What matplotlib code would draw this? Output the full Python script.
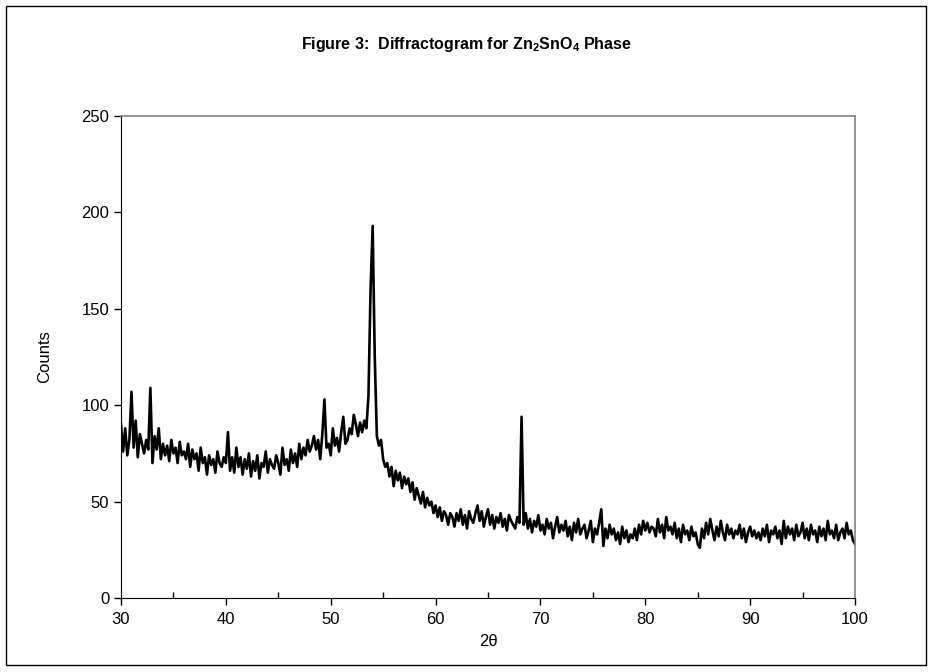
import numpy as np
import matplotlib
matplotlib.use('Agg')
import matplotlib.pyplot as plt
from matplotlib.patches import Rectangle

plt.rcParams['font.family'] = ['Liberation Sans', 'DejaVu Sans']
plt.rcParams['mathtext.fontset'] = 'custom'
plt.rcParams['mathtext.rm'] = 'Liberation Sans'
plt.rcParams['mathtext.bf'] = 'Liberation Sans:bold'

# scan settings (2-theta, degrees)
scan_start = 30.0
scan_step = 0.2

# counts, 2 degrees per row
counts = [
    90, 76, 88, 74, 82, 107, 78, 92, 73, 85,     # 30-32
    80, 75, 82, 77, 109, 70, 84, 77, 88, 72,     # 32-34
    80, 74, 79, 71, 82, 75, 78, 70, 81, 74,      # 34-36
    76, 72, 80, 68, 77, 72, 75, 66, 78, 70,      # 36-38
    73, 64, 74, 69, 72, 65, 76, 70, 68, 73,      # 38-40
    70, 86, 66, 73, 65, 78, 68, 73, 64, 72,      # 40-42
    67, 75, 63, 71, 66, 74, 62, 70, 68, 76,      # 42-44
    65, 72, 69, 67, 74, 70, 64, 78, 69, 72,      # 44-46
    66, 77, 70, 75, 68, 80, 72, 78, 74, 82,      # 46-48
    76, 79, 84, 77, 82, 72, 85, 103, 78, 80,     # 48-50
    74, 88, 79, 83, 76, 86, 94, 80, 82, 88,      # 50-52
    85, 95, 90, 84, 91, 86, 92, 88, 105, 160,    # 52-54
    193, 125, 84, 79, 82, 72, 68, 70, 63, 68,    # 54-56
    58, 66, 61, 65, 57, 63, 59, 62, 55, 60,      # 56-58
    51, 57, 53, 49, 55, 47, 52, 48, 50, 44,      # 58-60
    48, 42, 47, 40, 45, 43, 38, 44, 42, 37,      # 60-62
    44, 40, 46, 38, 43, 36, 45, 41, 39, 44,      # 62-64
    48, 40, 45, 37, 42, 46, 38, 43, 36, 42,      # 64-66
    39, 44, 37, 41, 35, 43, 40, 38, 36, 42,      # 66-68
    39, 94, 38, 44, 36, 41, 34, 40, 37, 43,      # 68-70
    35, 38, 33, 41, 36, 39, 31, 37, 42, 34,      # 70-72
    38, 35, 40, 32, 37, 30, 39, 34, 41, 33,      # 72-74
    36, 38, 31, 35, 40, 29, 36, 33, 39, 46,      # 74-76
    27, 36, 31, 38, 33, 36, 30, 34, 28, 37,      # 76-78
    31, 35, 29, 33, 31, 36, 30, 38, 33, 40,      # 78-80
    35, 39, 34, 37, 36, 32, 41, 34, 38, 31,      # 80-82
    42, 35, 37, 33, 39, 31, 36, 29, 38, 33,      # 82-84
    35, 30, 37, 32, 34, 28, 26, 36, 31, 39,      # 84-86
    33, 41, 35, 30, 37, 32, 40, 34, 30, 38,      # 86-88
    33, 36, 31, 35, 33, 38, 31, 36, 29, 34,      # 88-90
    37, 32, 35, 31, 34, 30, 36, 32, 38, 29,      # 90-92
    35, 33, 37, 31, 35, 28, 40, 31, 37, 33,      # 92-94
    36, 30, 38, 32, 34, 39, 31, 36, 30, 38,      # 94-96
    33, 35, 29, 37, 32, 36, 30, 40, 33, 35,      # 96-98
    31, 38, 30, 34, 36, 31, 39, 33, 35, 30,      # 98-100
    28,
]
two_theta = scan_start + scan_step * np.arange(len(counts))

x_ticks = [30, 40, 50, 60, 70, 80, 90, 100]
x_minor = [35, 45, 55, 65, 75, 85, 95]
y_ticks = [0, 50, 100, 150, 200, 250]

W, H = 933, 672
fig = plt.figure(figsize=(W / 100, H / 100), dpi=100)
# plot area in pixels: left 121, right 855, top 116, bottom 598
ax = fig.add_axes([121 / W, 1 - 598 / H, 734 / W, 482 / H])

ax.plot(two_theta, counts, color='black', linewidth=1.9)

ax.set_xlim(30, 100)
ax.set_ylim(0, 250)
ax.set_xticks(x_ticks)
ax.set_yticks(y_ticks)
ax.set_xticks(x_minor, minor=True)
ax.tick_params(axis='both', which='major', direction='out', length=5,
               labelsize=12, width=1)
ax.tick_params(axis='x', which='major', pad=5)
ax.tick_params(axis='x', which='minor', direction='in', length=4, width=1)

for side in ['top', 'right']:
    ax.spines[side].set_color('#808080')
    ax.spines[side].set_linewidth(1.2)
for side in ['left', 'bottom']:
    ax.spines[side].set_color('black')

fig.text(488 / W, 1 - 642 / H, '2θ', ha='center', va='center', fontsize=12)
fig.text(45 / W, 1 - 357 / H, 'Counts', ha='center', va='center',
         rotation=90, fontsize=12)

fig.text(466 / W, 1 - 45 / H,
         r'Figure 3:  Diffractogram for Zn$_\mathbf{2}$SnO$_\mathbf{4}$ Phase',
         ha='center', va='center', fontsize=11.5, fontweight='bold')

# outer chart border
fig.patches.append(Rectangle((6 / W, 7 / H), 920 / W, 659 / H,
                             transform=fig.transFigure, fill=False,
                             edgecolor='black', linewidth=1))

fig.savefig('out.png', dpi=100)
